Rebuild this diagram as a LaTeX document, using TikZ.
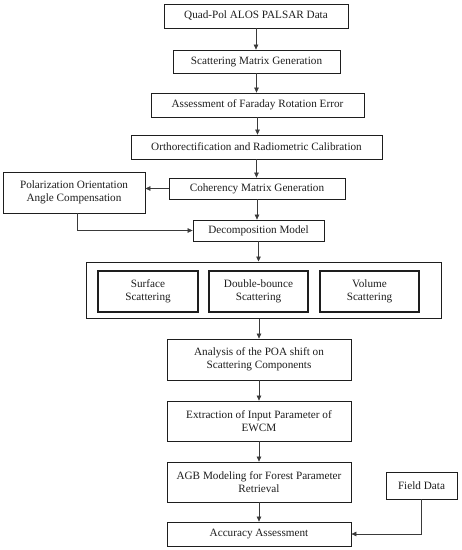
\documentclass[tikz,border=0pt]{standalone}
\usepackage{fontspec}
\setmainfont{Liberation Serif}
\usepackage{tikz}
\usetikzlibrary{arrows.meta, positioning, calc}
\definecolor{ink}{HTML}{1E1E1E}
\definecolor{wire}{HTML}{3A3A3A}
\tikzset{
  block/.style={rectangle, draw=ink, line width=0.8pt, fill=white, inner sep=0pt,
    align=center, font=\fontsize{11.2}{13.2}\selectfont, text=ink},
  blockThick/.style={block, line width=1.8pt},
  groupbox/.style={rectangle, draw=ink, line width=1pt, inner sep=0pt},
  arrow/.style={-{Triangle[length=5pt, width=4.5pt]}, line width=0.6pt, wire},
}
\begin{document}
\begin{tikzpicture}[x=1pt, y=-1pt]
\useasboundingbox (0,0) rectangle (462,550);
\node[block, minimum width=184pt, minimum height=24pt] (quad) at (256,16) {Quad-Pol ALOS PALSAR Data};
\node[block, minimum width=167pt, minimum height=23pt] (smat) at (256.5,61.5) {Scattering Matrix Generation};
\node[block, minimum width=213pt, minimum height=24pt] (fara) at (257.5,105) {Assessment of Faraday Rotation Error};
\node[block, minimum width=251pt, minimum height=24pt] (orth) at (256.5,147) {Orthorectification and Radiometric Calibration};
\node[block, minimum width=176pt, minimum height=21pt] (cohm) at (257,188.5) {Coherency Matrix Generation};
\node[block, minimum width=142pt, minimum height=41pt] (poac) at (74,192.5) {Polarization Orientation\\Angle Compensation};
\node[block, minimum width=131pt, minimum height=21pt] (deco) at (258.5,230.5) {Decomposition Model};
\node[groupbox, minimum width=355pt, minimum height=56pt] (scat) at (263.5,290) {};
\node[blockThick, minimum width=100pt, minimum height=41pt] (surf) at (148,291.5) {Surface\\Scattering};
\node[blockThick, minimum width=99pt, minimum height=41pt] (dbl) at (258.5,291.5) {Double-bounce\\Scattering};
\node[blockThick, minimum width=99pt, minimum height=41pt] (vol) at (369.5,291.5) {Volume\\Scattering};
\node[block, minimum width=184pt, minimum height=41pt] (anal) at (259,359.5) {Analysis of the POA shift on\\Scattering Components};
\node[block, minimum width=184pt, minimum height=40pt] (extr) at (259,421) {Extraction of Input Parameter of\\EWCM};
\node[block, minimum width=184pt, minimum height=40pt] (agbm) at (259,482) {AGB Modeling for Forest Parameter\\Retrieval};
\node[block, minimum width=184pt, minimum height=24pt] (accu) at (259,534) {Accuracy Assessment};
\node[block, minimum width=71pt, minimum height=27pt] (fld) at (421.5,485.5) {Field Data};
\draw[arrow] (quad.south) -- (quad.south |- smat.north);
\draw[arrow] (smat.south) -- (smat.south |- fara.north);
\draw[arrow] (fara.south) -- (fara.south |- orth.north);
\draw[arrow] (orth.south) -- (orth.south |- cohm.north);
\draw[arrow] (cohm.west) -- (cohm.west -| poac.east);
\draw[arrow] (cohm.south) -- (cohm.south |- deco.north);
\draw[arrow] ($(poac.south)+(3,0)$) |- (deco.west);
\draw[arrow] (deco.south) -- (deco.south |- scat.north);
\draw[arrow] (anal.north |- scat.south) -- (anal.north);
\draw[arrow] (anal.south) -- (extr.north);
\draw[arrow] (extr.south) -- (agbm.north);
\draw[arrow] (agbm.south) -- (accu.north);
\draw[arrow] (fld.south) |- (accu.east);
\end{tikzpicture}
\end{document}
